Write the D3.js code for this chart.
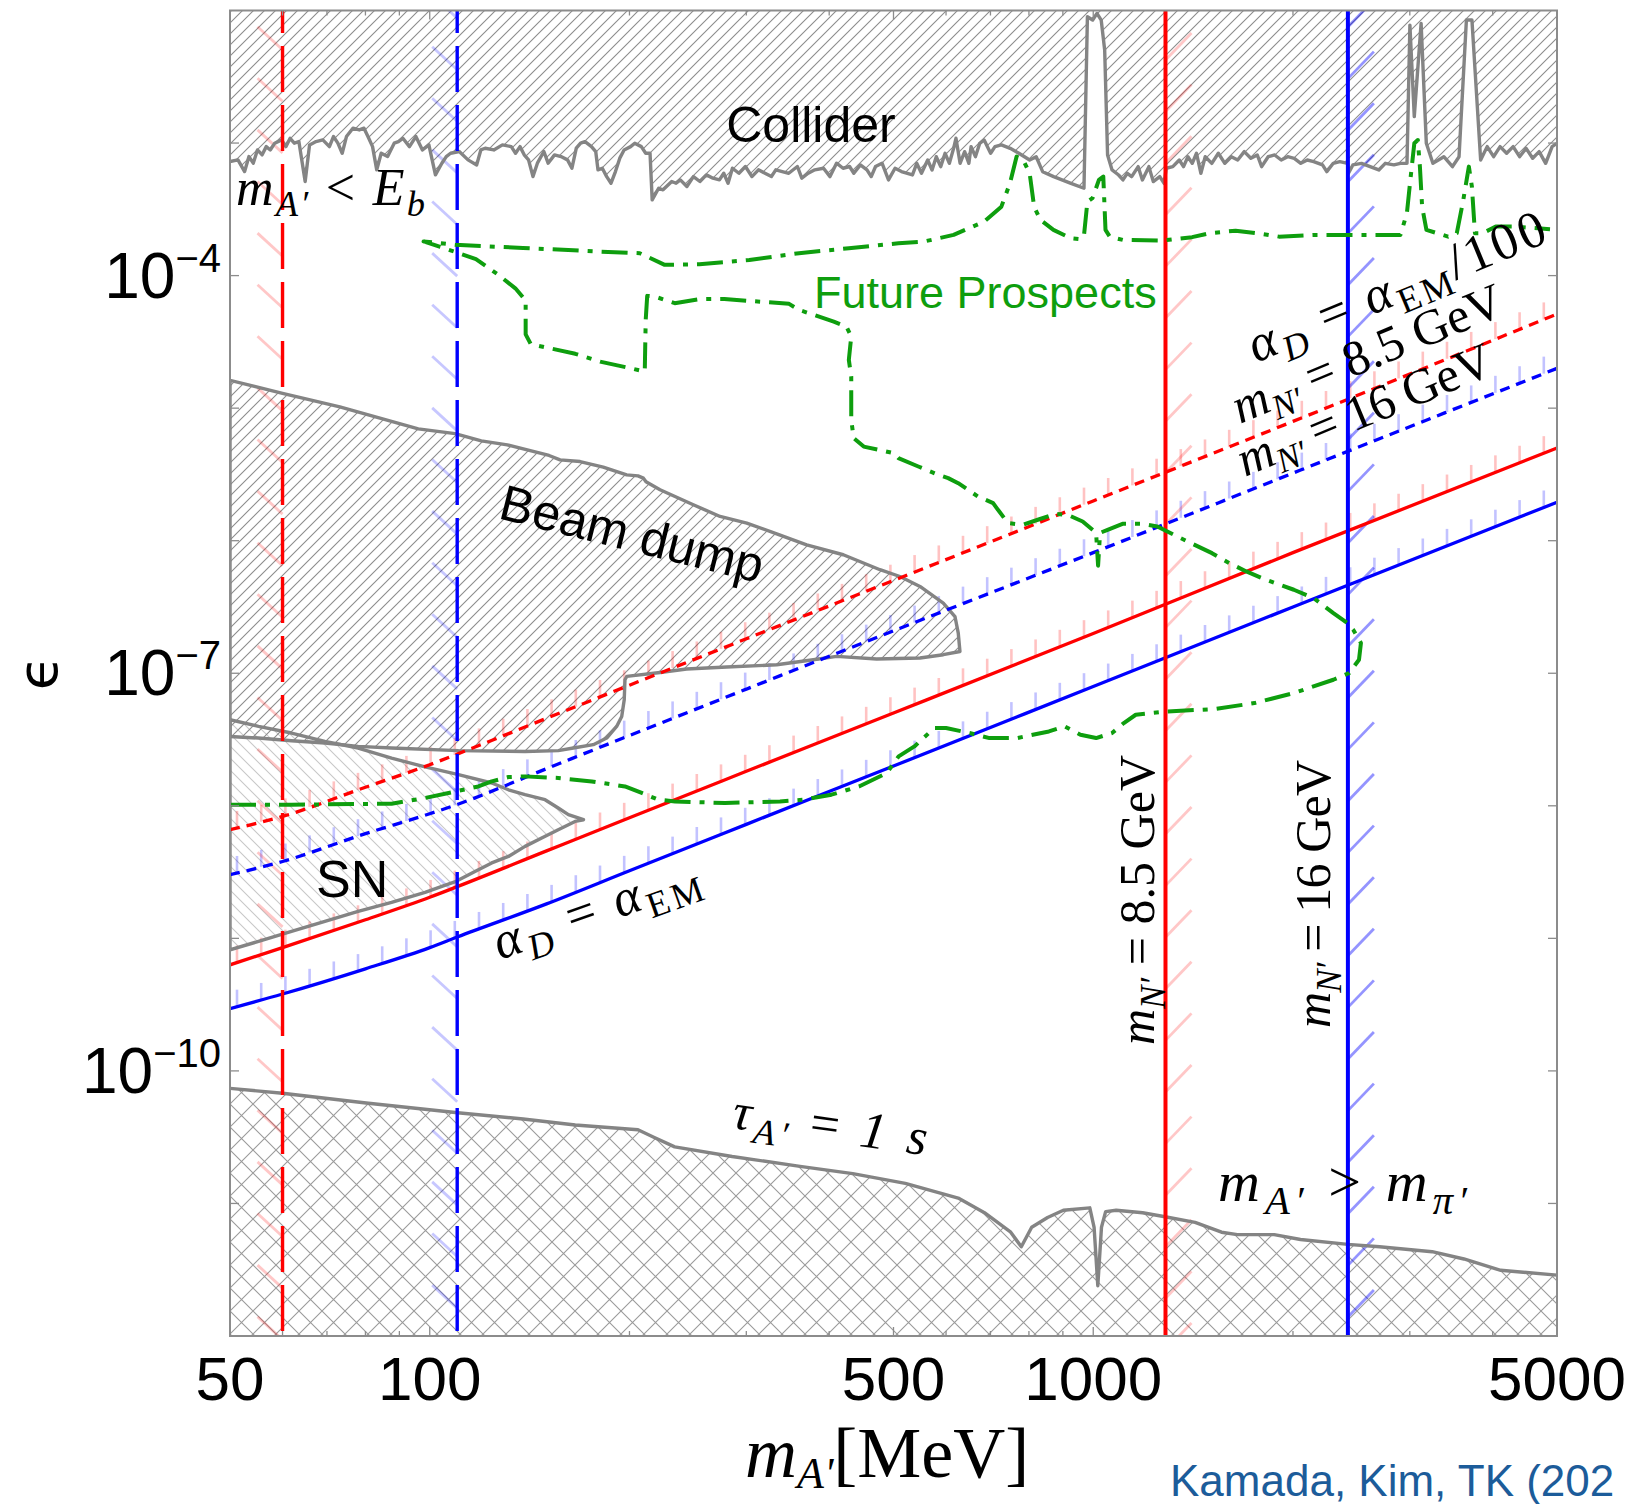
<!DOCTYPE html>
<html>
<head>
<meta charset="utf-8">
<title>Dark photon limits</title>
<script src="https://cdn.jsdelivr.net/npm/d3@7"></script>
<style>
  body { margin: 0; background: #fff; }
  svg { display: block; }
  text { white-space: pre; }
</style>
</head>
<body>
<div id="main_div"></div>
<script>
// all curves: [m_A' in MeV, log10(epsilon)]
var colliderEdge = [[50,-3.14],[51.4,-3.127],[52.6,-3.215],[53.4,-3.102],[54.2,-3.152],[55.0,-3.052],[55.9,-3.089],[56.7,-3.027],[57.5,-3.052],[58.4,-3.001],[59.8,-2.976],[60.7,-3.027],[61.6,-2.964],[62.5,-3.001],[63.5,-2.989],[64.9,-3.290],[65.9,-3.014],[67.4,-2.989],[69.0,-2.976],[70.6,-3.027],[71.6,-2.951],[72.7,-3.001],[73.8,-3.077],[74.9,-2.951],[76.6,-2.888],[78.3,-2.901],[79.6,-2.888],[80.7,-2.951],[82.0,-3.027],[83.2,-3.202],[84.5,-3.077],[86.4,-3.102],[88.4,-3.001],[89.7,-2.989],[91.1,-2.964],[93.2,-3.027],[95.3,-2.951],[97.5,-3.052],[99.7,-3.014],[102.0,-3.240],[104.3,-3.152],[105.9,-3.102],[107.5,-3.077],[110.8,-3.064],[114.2,-3.127],[117.7,-3.165],[119.4,-3.052],[121.2,-3.039],[124.9,-3.052],[128.7,-3.014],[132.7,-3.027],[134.7,-3.077],[136.8,-3.027],[138.8,-3.089],[140.9,-3.127],[143.1,-3.253],[145.3,-3.152],[148.6,-3.064],[150.8,-3.152],[154.2,-3.089],[157.7,-3.102],[161.3,-3.127],[163.8,-3.190],[166.3,-3.039],[168.8,-3.001],[171.4,-2.989],[175.3,-3.027],[177.9,-3.064],[179.3,-3.202],[182.0,-3.190],[184.8,-3.253],[187.6,-3.303],[190.5,-3.215],[193.4,-3.114],[196.3,-3.052],[200.8,-3.027],[203.7,-3.001],[208.4,-3.027],[211.6,-3.077],[214.8,-3.077],[216.4,-3.429],[221.3,-3.341],[224.7,-3.353],[231.6,-3.290],[235.1,-3.303],[238.6,-3.278],[244.1,-3.328],[249.7,-3.253],[255.4,-3.290],[261.2,-3.240],[267.2,-3.265],[273.3,-3.278],[277.4,-3.228],[281.6,-3.303],[285.9,-3.190],[292.4,-3.228],[299.1,-3.177],[305.9,-3.253],[312.9,-3.202],[320.1,-3.228],[327.3,-3.253],[332.3,-3.202],[339.9,-3.215],[347.6,-3.228],[358.2,-3.177],[363.7,-3.265],[371.9,-3.228],[380.5,-3.202],[392.2,-3.190],[401.1,-3.253],[410.3,-3.152],[419.7,-3.190],[429.3,-3.177],[435.7,-3.228],[445.7,-3.165],[456.0,-3.202],[462.8,-3.253],[469.8,-3.177],[480.5,-3.152],[491.4,-3.278],[502.7,-3.190],[514,-3.215],[534,-3.241],[542,-3.153],[551,-3.228],[563,-3.128],[571.6,-3.203],[580,-3.103],[589,-3.178],[598,-3.077],[607,-3.153],[616,-3.040],[621,-2.964],[630,-3.153],[640,-3.065],[649.5,-3.153],[654.5,-3.027],[664.4,-3.103],[674.5,-3.002],[684.8,-2.977],[700.4,-3.077],[711,-3.027],[727,-3.014],[749.6,-3.040],[772.5,-3.077],[802,-3.128],[820.4,-3.103],[839,-3.216],[871.6,-3.253],[925.6,-3.304],[968.4,-3.341],[980,-2.047],[998,-2.072],[1013,-2.022],[1028,-2.072],[1040.5,-2.298],[1051,-3.090],[1067.5,-3.203],[1092,-3.241],[1108.7,-3.278],[1125.5,-3.228],[1142.7,-3.253],[1168.8,-3.178],[1186,-3.278],[1213,-3.178],[1231.7,-3.291],[1259.8,-3.253],[1278.8,-3.304],[1288.4,-3.190],[1318,-3.178],[1348,-3.128],[1368,-3.178],[1389,-3.103],[1410,-3.153],[1431,-3.077],[1453,-3.228],[1475,-3.103],[1509,-3.153],[1543.6,-3.077],[1578.8,-3.153],[1614.8,-3.103],[1651,-3.128],[1689,-3.065],[1727.8,-3.115],[1767.2,-3.090],[1794,-3.178],[1835,-3.103],[1877,-3.090],[1920,-3.128],[1964,-3.103],[2009,-3.115],[2055,-3.153],[2102,-3.128],[2149,-3.140],[2216,-3.165],[2249,-3.216],[2300,-3.153],[2353,-3.140],[2418,-3.153],[2425,-3.228],[2462,-3.165],[2537,-3.153],[2614,-3.178],[2694,-3.203],[2755,-3.153],[2839,-3.165],[2904,-3.153],[2971,-3.153],[3001,-2.110],[3047,-2.801],[3120,-2.097],[3177,-3.002],[3250,-3.153],[3376,-3.103],[3479,-3.178],[3559,-3.103],[3651,-2.072],[3722,-2.072],[3836,-3.128],[3924,-3.027],[4013,-3.103],[4104,-3.027],[4198,-3.077],[4294,-3.027],[4391,-3.103],[4492,-3.040],[4595,-3.115],[4700,-3.065],[4807,-3.153],[4916,-3.027],[5000,-3.002]];

var beamDumpEdge = [[50,-4.790],[60.0,-4.889],[73.2,-4.990],[96.1,-5.156],[109.2,-5.192],[119.6,-5.247],[130.9,-5.277],[151.3,-5.357],[157.2,-5.390],[168.5,-5.403],[182.6,-5.445],[198.1,-5.503],[206,-5.511],[209.9,-5.528],[211.8,-5.556],[222.4,-5.616],[249.6,-5.729],[273.9,-5.817],[300.5,-5.867],[333.4,-5.948],[369.9,-6.031],[420,-6.106],[477.1,-6.219],[511.3,-6.270],[548.1,-6.345],[594.3,-6.471],[618.9,-6.572],[626,-6.697],[629.7,-6.836],[594.3,-6.860],[548.1,-6.885],[471.7,-6.893],[410.5,-6.873],[378.5,-6.898],[333.4,-6.936],[280.4,-6.953],[243.9,-6.968],[222.4,-6.994],[198.1,-7.024],[196.9,-7.049],[196.4,-7.200],[194.7,-7.326],[191.3,-7.401],[184.8,-7.489],[176.4,-7.539],[164.6,-7.564],[156.2,-7.584],[139.2,-7.590],[110.5,-7.584],[87.6,-7.564],[78.0,-7.552],[69.5,-7.526],[61.9,-7.509],[55.2,-7.489],[50,-7.477]];

var snEdge = [[50,-7.351],[55.2,-7.401],[61.9,-7.451],[69.5,-7.514],[78.0,-7.564],[87.6,-7.640],[98.4,-7.707],[110.5,-7.765],[124.0,-7.828],[131.4,-7.879],[139.2,-7.916],[149.2,-7.954],[156.2,-8.017],[161.8,-8.067],[170.5,-8.105],[165.6,-8.118],[156.2,-8.180],[147.5,-8.243],[139.2,-8.306],[131.4,-8.382],[124.0,-8.431],[117.0,-8.495],[109.6,-8.570],[104.3,-8.608],[98.4,-8.653],[87.6,-8.728],[78.0,-8.796],[69.5,-8.872],[61.9,-8.947],[55.2,-9.023],[50,-9.086]];

var lifetimeEdge = [[50,-10.132],[60,-10.169],[80.2,-10.242],[110.2,-10.316],[138.3,-10.363],[165.7,-10.408],[206,-10.444],[217.6,-10.500],[234,-10.573],[285.6,-10.646],[361.5,-10.720],[434.1,-10.775],[521,-10.849],[625.9,-10.959],[685.6,-11.070],[751,-11.217],[779.1,-11.327],[807.7,-11.180],[853.5,-11.106],[901.6,-11.051],[988.2,-11.033],[1003,-11.180],[1016,-11.621],[1029,-11.180],[1044,-11.062],[1083,-11.051],[1187,-11.070],[1283,-11.100],[1424,-11.143],[1561,-11.217],[1649,-11.235],[1874,-11.235],[2053,-11.272],[2420,-11.309],[2701,-11.327],[3242,-11.364],[3620,-11.419],[4113,-11.504],[5000,-11.541]];

var prospectCurve = [[50,-7.992],[61.9,-7.992],[87.6,-7.984],[98.4,-7.941],[109.6,-7.891],[118.4,-7.854],[124.0,-7.816],[131.4,-7.783],[139.2,-7.778],[156.2,-7.790],[175.5,-7.816],[196.9,-7.854],[208.7,-7.903],[221,-7.954],[234.3,-7.967],[278.6,-7.979],[337.2,-7.967],[366.1,-7.954],[403.1,-7.916],[443.6,-7.854],[488.4,-7.753],[509,-7.627],[537.6,-7.552],[576,-7.413],[600,-7.413],[651,-7.451],[697.5,-7.489],[768,-7.489],[857.5,-7.439],[905.5,-7.401],[956.5,-7.464],[1010,-7.489],[1067.5,-7.451],[1112,-7.376],[1159,-7.313],[1293,-7.288],[1525,-7.270],[1750,-7.225],[2006,-7.149],[2301,-7.049],[2431,-6.998],[2515,-6.898],[2532,-6.772],[2465,-6.672],[2415,-6.621],[2301,-6.546],[2149,-6.433],[2006,-6.370],[1822,-6.295],[1701,-6.232],[1604,-6.169],[1510,-6.094],[1338,-5.968],[1249,-5.893],[1186,-5.873],[1107,-5.873],[1051,-5.918],[1024,-5.941],[1017,-6.189],[1010,-5.941],[997.5,-5.918],[964,-5.855],[915,-5.805],[876.5,-5.797],[825,-5.842],[783.5,-5.880],[744,-5.867],[718.5,-5.767],[706.5,-5.716],[670.5,-5.667],[626,-5.566],[604.5,-5.528],[584,-5.503],[545,-5.440],[508.6,-5.377],[500,-5.339],[474.8,-5.314],[450.9,-5.290],[435.5,-5.226],[431.8,-5.088],[431.8,-4.762],[428.2,-4.636],[431.8,-4.460],[424.6,-4.385],[406.4,-4.347],[379.3,-4.296],[360.2,-4.259],[348,-4.213],[324.8,-4.201],[303.2,-4.191],[278,-4.176],[255,-4.178],[234,-4.208],[218.3,-4.158],[212.7,-4.153],[211.6,-4.334],[210.9,-4.724],[200.3,-4.698],[180.6,-4.649],[165.7,-4.590],[142,-4.517],[139.5,-4.443],[139.5,-4.187],[134.6,-4.096],[126.2,-3.986],[117.4,-3.876],[109.2,-3.821],[103.7,-3.784],[97.9,-3.742],[109.2,-3.768],[138.2,-3.791],[180.6,-3.819],[207.3,-3.831],[226,-3.919],[255,-3.914],[303.2,-3.882],[360.2,-3.831],[428.2,-3.793],[508.6,-3.756],[554.6,-3.744],[616,-3.693],[684.5,-3.593],[727,-3.480],[749,-3.303],[766.5,-3.102],[784,-3.127],[802,-3.228],[814.5,-3.480],[832.5,-3.580],[871,-3.655],[925,-3.718],[953.5,-3.725],[968,-3.706],[980,-3.442],[997.5,-3.416],[1020,-3.278],[1035.5,-3.253],[1043.5,-3.655],[1059,-3.706],[1108,-3.731],[1269,-3.736],[1409.5,-3.710],[1497.5,-3.680],[1639,-3.661],[1767.5,-3.680],[1905.5,-3.706],[2149.5,-3.693],[2904,-3.693],[2970,-3.529],[3002,-3.303],[3047.5,-3.002],[3084.5,-2.977],[3107,-3.178],[3131,-3.480],[3178,-3.655],[3426.5,-3.706],[3531.5,-3.680],[3612,-3.429],[3682.5,-3.178],[3721.5,-3.329],[3761,-3.680],[3864.5,-3.680],[4043,-3.630],[4292.5,-3.630],[4880,-3.650]];

// alpha_D lines, shared mass grid
var lineMass     = [50, 60, 80, 100, 110, 150, 200, 300, 500, 1000, 2000, 5000];
var redSolidLog  = [-9.20, -9.07, -8.86, -8.69, -8.61, -8.34, -8.09, -7.74, -7.30, -6.70, -6.09, -5.30];
var blueSolidLog = [-9.53, -9.42, -9.23, -9.07, -8.99, -8.74, -8.49, -8.14, -7.70, -7.10, -6.50, -5.71];
var redDotLog    = [-8.18, -8.08, -7.86, -7.69, -7.61, -7.34, -7.09, -6.74, -6.30, -5.70, -5.10, -4.29];
var blueDotLog   = [-8.52, -8.42, -8.21, -8.06, -7.99, -7.72, -7.47, -7.12, -6.68, -6.09, -5.49, -4.70];

var dashedMass = [60, 110];     // m_A' < E_b lines
var solidMass = [1285, 2420];   // m_N' = 8.5, 16 GeV lines

var xTicksMajor = [50, 100, 500, 1000, 5000];
var xTicksMinor = [60, 70, 80, 90, 200, 300, 400, 600, 700, 800, 900, 2000, 3000, 4000];
var yDecades = [-11, -10, -9, -8, -7, -6, -5, -4, -3];
var yLabelled = [-4, -7, -10];

var RED = "#ff0000", BLUE = "#0000ff", GREEN = "#0e9e0e", GRAY = "#848484";

var x_scale = d3.scaleLog().domain([50, 5000]).range([230, 1557]);
var y_scale = d3.scaleLog().domain([1e-12, 1e-2]).range([1336, 10.5]);
var x0 = x_scale.range()[0], x1 = x_scale.range()[1];
var yTop = y_scale.range()[1], yBot = y_scale.range()[0];

function px(d) { return x_scale(d[0]); }
function py(d) { return y_scale(Math.pow(10, d[1])); }
var line = d3.line().x(px).y(py);
var smooth = d3.line().x(px).y(py).curve(d3.curveMonotoneX);

var svg = d3.select("#main_div").append("svg").attr("width", 1626).attr("height", 1504);
var defs = svg.append("defs");
defs.append("clipPath").attr("id", "clip").append("rect")
    .attr("x", x0).attr("y", yTop).attr("width", x1 - x0).attr("height", yBot - yTop);

function pattern(id, size, d, color, w) {
    defs.append("pattern").attr("id", id).attr("patternUnits", "userSpaceOnUse")
        .attr("width", size).attr("height", size)
        .append("path").attr("d", d).attr("stroke", color).attr("stroke-width", w).attr("fill", "none");
}
pattern("fwd", 11, "M0,11L11,0M-2,2L2,-2M9,13L13,9", "#8c8c8c", 1.1);
pattern("back", 12, "M0,0L12,12M-2,10L2,14M10,-2L14,2", "#c8c8c8", 1.1);
pattern("cross", 23, "M0,0L23,23M0,23L23,0", "#9a9a9a", 1.1);

var plot = svg.append("g").attr("clip-path", "url(#clip)");

var logTop = Math.log10(y_scale.domain()[1]), logBot = Math.log10(y_scale.domain()[0]);
var mLo = x_scale.domain()[0], mHi = x_scale.domain()[1];

// shaded regions
plot.append("path").attr("d", line(snEdge) + "Z").attr("fill", "url(#back)");
plot.append("path").attr("d", line(beamDumpEdge) + "Z").attr("fill", "url(#fwd)");
plot.append("path").attr("d", line(colliderEdge.concat([[mHi, logTop], [mLo, logTop]])) + "Z").attr("fill", "url(#fwd)");
plot.append("path").attr("d", line(lifetimeEdge.concat([[mHi, logBot], [mLo, logBot]])) + "Z").attr("fill", "url(#cross)");

// hatch ticks on the alpha_D lines
function logAt(logs, m) {
    var lm = Math.log10(m);
    for (var i = 0; i < lineMass.length - 1; i++) {
        var a = Math.log10(lineMass[i]), b = Math.log10(lineMass[i + 1]);
        if (lm <= b || i == lineMass.length - 2) {
            return logs[i] + (lm - a) / (b - a) * (logs[i + 1] - logs[i]);
        }
    }
}
var hatchX = d3.range(237, x1, 24.2);
[[redDotLog, RED], [blueDotLog, BLUE], [redSolidLog, RED], [blueSolidLog, BLUE]].forEach(function(l) {
    plot.append("g").selectAll("line").data(hatchX).enter().append("line")
        .attr("x1", function(d) { return d; }).attr("x2", function(d) { return d; })
        .attr("y1", function(d) { return py([0, logAt(l[0], x_scale.invert(d))]); })
        .attr("y2", function(d) { return py([0, logAt(l[0], x_scale.invert(d))]) - 17; })
        .attr("stroke", l[1]).attr("stroke-opacity", 0.24).attr("stroke-width", 2.6);
});

// hatch strokes next to the vertical lines
function vHatch(m, color, op, side, phase) {
    var xp = x_scale(m);
    var ys = d3.range(phase - 51.6, yBot + 60, 51.6);
    plot.append("g").selectAll("path").data(ys).enter().append("path")
        .attr("d", function(y) {
            return side == "left" ? "M" + (xp - 25) + "," + y + "L" + xp + "," + (y + 23)
                                  : "M" + xp + "," + y + "L" + (xp + 26) + "," + (y - 27);
        })
        .attr("stroke", color).attr("stroke-opacity", op).attr("stroke-width", 2.8).attr("fill", "none");
}
vHatch(dashedMass[0], RED, 0.22, "left", 26.7);
vHatch(dashedMass[1], BLUE, 0.22, "left", 46.7);
vHatch(solidMass[0], RED, 0.22, "right", 60);
vHatch(solidMass[1], BLUE, 0.42, "right", 27);

// region boundaries
[colliderEdge, beamDumpEdge, snEdge, lifetimeEdge].forEach(function(c, i) {
    plot.append("path").attr("d", line(c) + (i == 1 || i == 2 ? "Z" : ""))
        .attr("fill", "none").attr("stroke", GRAY).attr("stroke-width", 3.4).attr("stroke-linejoin", "round");
});

// alpha_D lines
[[redDotLog, RED, "10,7"], [blueDotLog, BLUE, "10,7"], [redSolidLog, RED, null], [blueSolidLog, BLUE, null]].forEach(function(l) {
    plot.append("path").attr("d", smooth(d3.zip(lineMass, l[0])))
        .attr("fill", "none").attr("stroke", l[1]).attr("stroke-width", 3.3)
        .attr("stroke-dasharray", l[2]);
});

// vertical lines
dashedMass.forEach(function(m, i) {
    plot.append("line").attr("x1", x_scale(m)).attr("x2", x_scale(m)).attr("y1", yTop).attr("y2", yBot)
        .attr("stroke", i ? BLUE : RED).attr("stroke-width", 3.4)
        .attr("stroke-dasharray", "46,13").attr("stroke-dashoffset", 23.5);
});
solidMass.forEach(function(m, i) {
    plot.append("line").attr("x1", x_scale(m)).attr("x2", x_scale(m)).attr("y1", yTop).attr("y2", yBot)
        .attr("stroke", i ? BLUE : RED).attr("stroke-width", 4);
});

// future prospects
plot.append("path").attr("d", line(prospectCurve)).attr("fill", "none")
    .attr("stroke", GREEN).attr("stroke-width", 4).attr("stroke-dasharray", "26,9,5,9")
    .attr("stroke-linejoin", "round");

// frame and ticks
var axes = svg.append("g").attr("stroke", "#8c8c8c").attr("stroke-width", 1.3);
axes.append("rect").attr("x", x0).attr("y", yTop).attr("width", x1 - x0).attr("height", yBot - yTop)
    .attr("fill", "none").attr("stroke-width", 2);
xTicksMajor.concat(xTicksMinor).forEach(function(v) {
    var len = xTicksMajor.indexOf(v) >= 0 ? 9 : 5;
    axes.append("line").attr("x1", x_scale(v)).attr("x2", x_scale(v)).attr("y1", yBot).attr("y2", yBot - len);
    axes.append("line").attr("x1", x_scale(v)).attr("x2", x_scale(v)).attr("y1", yTop).attr("y2", yTop + len);
});
yDecades.forEach(function(e) {
    var yy = y_scale(Math.pow(10, e));
    axes.append("line").attr("x1", x0).attr("x2", x0 + 9).attr("y1", yy).attr("y2", yy);
    axes.append("line").attr("x1", x1).attr("x2", x1 - 9).attr("y1", yy).attr("y2", yy);
});

var labels = svg.append("g").attr("font-family", "Liberation Sans, Arial, sans-serif");
xTicksMajor.forEach(function(v) {
    labels.append("text").attr("x", x_scale(v)).attr("y", 1400).attr("text-anchor", "middle")
        .attr("font-size", 62).text(v);
});
yLabelled.forEach(function(e) {
    var yy = y_scale(Math.pow(10, e));
    var t = labels.append("text").attr("x", 221).attr("y", yy + 22).attr("text-anchor", "end").attr("font-size", 64);
    t.append("tspan").text("10");
    t.append("tspan").attr("font-size", 40).attr("dy", -26).text("\u2212" + (-e));
});
labels.append("text").attr("x", 57).attr("y", 673).attr("text-anchor", "middle").attr("font-size", 56)
    .attr("font-family", "DejaVu Sans").attr("transform", "rotate(-90,57,673)").text("\u03f5");

labels.append("text").attr("x", 811).attr("y", 142).attr("text-anchor", "middle").attr("font-size", 50).text("Collider");
labels.append("text").attr("x", 814).attr("y", 308).attr("font-size", 45).attr("fill", GREEN).text("Future Prospects");
labels.append("text").attr("x", 0).attr("y", 17).attr("text-anchor", "middle").attr("font-size", 50)
    .attr("transform", "translate(632,534) rotate(14)").text("Beam dump");
labels.append("text").attr("x", 316).attr("y", 897).attr("font-size", 52).text("SN");
labels.append("text").attr("x", 1170).attr("y", 1496).attr("font-size", 44).attr("fill", "#1c5c9a")
    .text("Kamada, Kim, TK (202");

// math-style labels
var mathLabels = [
    {x: 236, y: 205, size: 52, len: 189, rot: 0, parts: [["m", "i"], ["A\u2032", "i_"], [" < ", ""], ["E", "i"], ["b", "i_"]]},
    {x: 1256, y: 363, size: 52, len: 318, rot: -22.5, parts: [["\u03b1", "i"], ["D", "i_"], [" = ", ""], ["\u03b1", "i"], ["EM", "_"], ["/100", ""]]},
    {x: 1240, y: 424, size: 50, len: 289, rot: -22.5, parts: [["m", "i"], ["N\u2032", "i_"], [" = 8.5 GeV", ""]]},
    {x: 1245, y: 477, size: 50, len: 272, rot: -22.5, parts: [["m", "i"], ["N\u2032", "i_"], [" = 16 GeV", ""]]},
    {x: 500, y: 960, size: 52, len: 215, rot: -19.5, parts: [["\u03b1", "i"], ["D", "i_"], [" = ", ""], ["\u03b1", "i"], ["EM", "_"]]},
    {x: 1154, y: 1045, size: 50, len: 290, rot: -90, parts: [["m", "i"], ["N\u2032", "i_"], [" = 8.5 GeV", ""]]},
    {x: 1330, y: 1028, size: 50, len: 268, rot: -90, parts: [["m", "i"], ["N\u2032", "i_"], [" = 16 GeV", ""]]},
    {x: 731, y: 1128, size: 52, len: 196, rot: 8, parts: [["\u03c4", "i"], ["A\u2032", "i_"], [" = ", ""], ["1 s", "i"]]},
    {x: 1218, y: 1201, size: 58, len: 249, rot: 0, parts: [["m", "i"], ["A\u2032", "i_"], [" > ", ""], ["m", "i"], ["\u03c0\u2032", "i_"]]}
];
var math = svg.append("g").attr("font-family", "Liberation Serif, Times New Roman, serif");
mathLabels.forEach(function(s) {
    var t = math.append("text").attr("x", s.x).attr("y", s.y).attr("font-size", s.size)
        .attr("textLength", s.len).attr("lengthAdjust", "spacing");
    if (s.rot) t.attr("transform", "rotate(" + s.rot + "," + s.x + "," + s.y + ")");
    var shift = 0;
    s.parts.forEach(function(p) {
        var sub = p[1].indexOf("_") >= 0 ? s.size * 0.22 : 0;
        var ts = t.append("tspan").attr("dy", sub - shift).text(p[0]);
        shift = sub;
        if (p[1].indexOf("i") >= 0) ts.attr("font-style", "italic");
        if (sub) ts.attr("font-size", s.size * 0.7);
    });
});

// x axis title
var xt = math.append("text").attr("x", 745).attr("y", 1477).attr("font-size", 72);
xt.append("tspan").attr("font-style", "italic").text("m");
xt.append("tspan").attr("font-style", "italic").attr("font-size", 44).attr("dy", 11).text("A'");
xt.append("tspan").attr("dy", -11).text("[MeV]");
</script>
</body>
</html>
